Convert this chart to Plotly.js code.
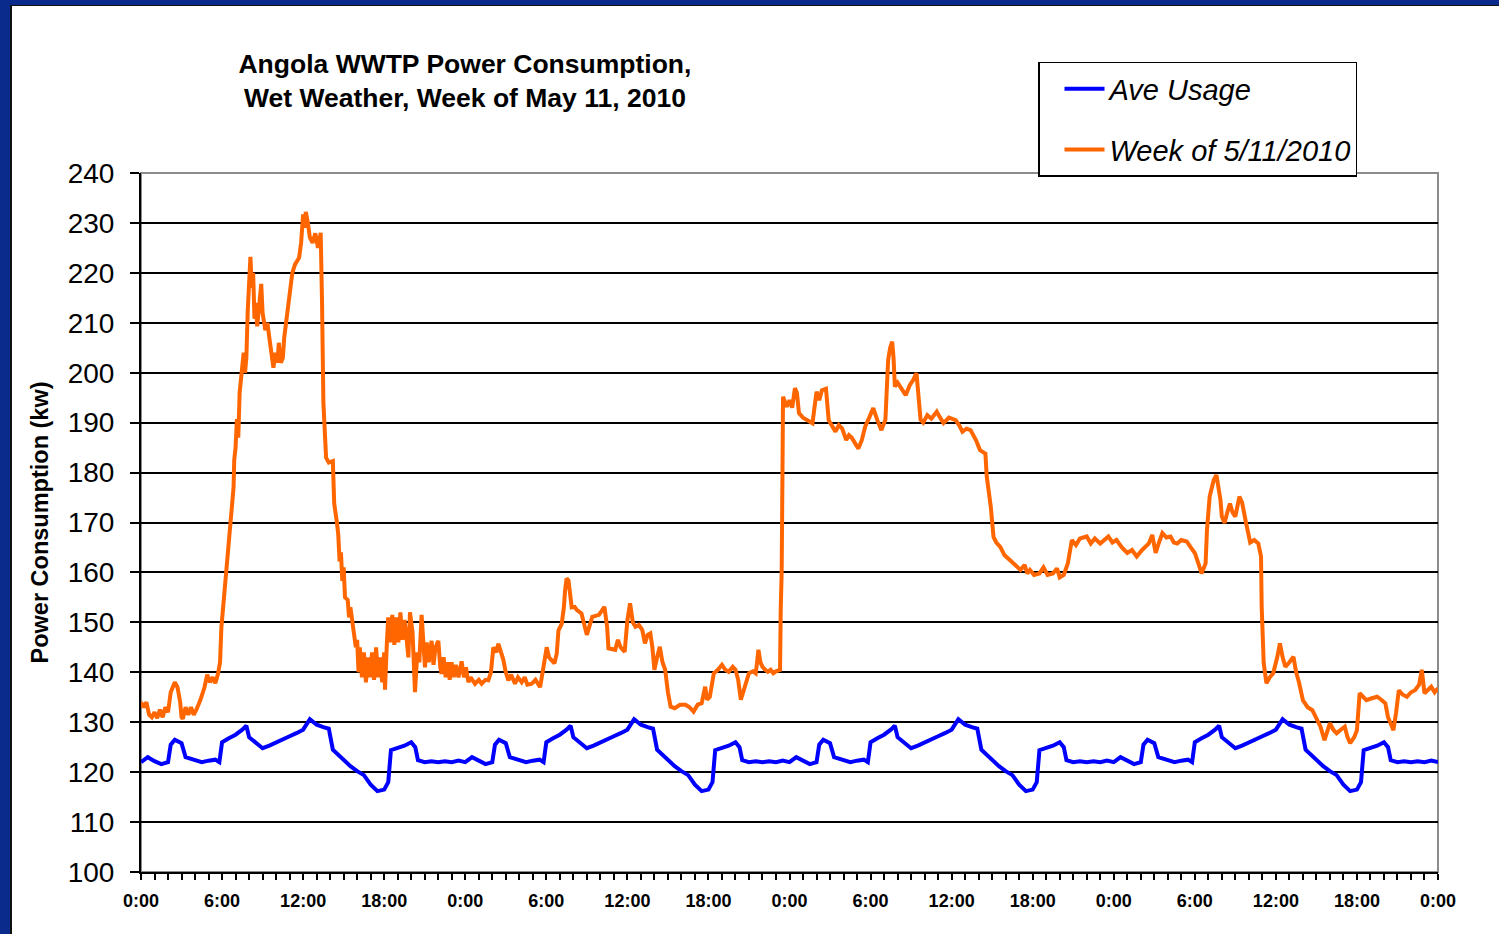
<!DOCTYPE html>
<html>
<head>
<meta charset="utf-8">
<script src="https://cdn.plot.ly/plotly-3.0.1.min.js"></script>
<style>
  html, body { margin: 0; padding: 0; width: 1499px; height: 934px; overflow: hidden; background: #0b2b8c; }
  #frame { position: absolute; left: 10px; top: 5px; width: 1489px; height: 929px; background: #fff;
           border-left: 2px solid #111; border-top: 1px solid #111; box-sizing: border-box; }
  #chart { position: absolute; left: 12px; top: 6px; width: 1487px; height: 928px; }
</style>
</head>
<body>
<div id="frame"></div>
<div id="chart"></div>
<script>
// ---- Data ----
const tickHours = [0, 6, 12, 18, 24, 30, 36, 42, 48, 54, 60, 66, 72, 78, 84, 90, 96];
const tickLabels = ['0:00','6:00','12:00','18:00','0:00','6:00','12:00','18:00','0:00','6:00','12:00','18:00','0:00','6:00','12:00','18:00','0:00'];

// "Ave Usage": the same daily average profile, plotted for each of the 4 days
const aveHours = [0,0.5,1,1.5,2,2.2,2.5,3,3.3,3.5,4,4.5,5,5.5,5.8,6,6.5,7,7.5,7.8,8,8.5,9,9.5,10,10.5,11,11.5,12,12.5,13,13.5,13.9,14.2,15,15.5,16,16.5,17,17.5,18,18.3,18.5,19,19.5,20,20.3,20.5,21,21.5,22,22.5,23,23.5,24];
const aveKw    = [122,123,122.2,121.6,122,125.5,126.5,125.8,123,122.8,122.3,122,122.3,122.5,122,126,126.8,127.5,128.5,129.3,127,125.8,124.8,125.3,126,126.5,127.2,127.8,128.5,130.6,129.5,129,128.7,124.5,122.4,121.2,120.2,119.4,117.5,116.2,116.5,118,124.4,124.8,125.3,126,125,122.4,122,122.2,122,122.2,122,122.3,122];
const dayStarts = [0, 24, 48, 72];

// "Week of 5/11/2010"
const weekHours = [
 0,0.2,0.4,0.6,0.8,1,1.2,1.4,1.6,1.8,2,2.2,2.5,2.7,2.9,3,3.1,3.3,3.5,3.7,3.9,4.1,4.4,4.7,4.9,5.1,5.3,5.5,5.7,5.85,5.95,
 6.2,6.5,6.7,6.85,6.9,7,7.1,7.2,7.3,7.4,7.5,7.6,7.7,7.8,7.9,8,8.1,8.2,8.3,8.4,8.5,8.6,8.7,8.9,9,9.2,9.35,9.5,9.65,9.8,9.95,
 10.1,10.2,10.35,10.5,10.6,10.7,10.85,11,11.2,11.4,11.6,11.7,11.85,12,12.1,12.2,12.35,12.5,12.7,12.9,13.1,13.3,13.4,13.5,13.7,13.9,
 14.2,14.3,14.5,14.6,14.7,14.8,14.9,15,15.1,15.3,15.4,15.5,15.7,15.8,15.9,16,16.1,16.2,16.35,16.5,16.65,16.8,16.95,17.1,17.25,17.4,17.55,17.7,17.85,18,18.06,
 18.2,18.3,18.45,18.6,18.75,18.9,19.05,19.2,19.35,19.5,19.65,19.79,19.91,20.1,20.28,20.45,20.6,20.77,20.9,21.02,21.15,21.3,21.51,21.65,21.8,
 22.01,22.15,22.25,22.4,22.55,22.7,22.85,22.99,23.15,23.3,23.5,23.73,23.9,24.05,24.23,24.4,24.72,25,25.21,25.5,25.71,25.9,26.08,26.3,26.45,26.65,26.82,
 27,27.19,27.4,27.68,27.9,28.18,28.4,28.6,28.92,29.2,29.54,29.79,30.03,30.2,30.4,30.6,30.77,30.9,31.14,31.3,31.39,31.5,31.64,31.75,31.88,
 32.1,32.25,32.6,33,33.4,33.9,34.3,34.5,34.6,35.1,35.3,35.5,35.8,36,36.2,36.4,36.6,36.85,37.1,37.3,37.5,37.7,37.85,38,38.2,38.4,38.6,38.8,
 39,39.2,39.5,39.9,40.3,40.6,40.9,41.2,41.5,41.6,41.76,41.9,42.1,42.4,42.7,43,43.25,43.5,43.8,44,44.2,44.4,44.7,45,45.3,45.5,45.6,45.7,45.85,
 46,46.2,46.4,46.6,46.8,47,47.3,47.35,47.42,47.48,47.52,47.8,48,48.2,48.4,48.55,48.7,49,49.3,49.7,50,50.2,50.4,50.7,50.9,51.1,51.4,51.65,51.9,
 52.2,52.4,52.6,52.85,53.1,53.35,53.6,53.9,54.2,54.5,54.8,55.1,55.2,55.3,55.45,55.6,55.7,55.8,56,56.2,56.4,56.6,56.9,57.15,57.4,57.55,57.7,57.9,
 58.2,58.5,58.9,59.15,59.4,59.8,60.3,60.55,60.8,61.1,61.4,61.8,62.1,62.5,62.6,62.9,63.1,63.3,63.6,63.9,64.3,64.6,65.1,65.4,65.6,65.8,
 66.1,66.5,66.8,67.1,67.5,67.8,68,68.3,68.6,68.9,69.2,69.5,70,70.3,70.6,71,71.3,71.6,71.9,72.2,72.6,73,73.35,73.7,74.1,74.6,74.85,
 75.1,75.35,75.6,75.9,76.2,76.45,76.7,77,77.4,77.7,78,78.3,78.5,78.8,78.9,79.1,79.4,79.6,79.75,79.9,80,80.2,80.4,80.6,80.8,81,81.3,81.5,81.8,
 82.1,82.4,82.7,82.9,82.95,83.1,83.3,83.55,83.8,84.1,84.3,84.5,84.7,85,85.3,85.5,85.7,86,86.35,86.7,87,87.3,87.6,87.8,88,88.25,88.5,88.8,
 89.1,89.3,89.5,89.8,90,90.2,90.45,90.7,91.1,91.5,91.8,92.1,92.3,92.5,92.7,92.9,93.1,93.4,93.7,94,94.3,94.6,94.8,95,95.25,95.5,95.75,96
];
const weekKw = [
 134,133,134,131.5,131,132,130.8,132.5,131,133,132,136,138,137,134,131,130.7,133,131.5,133,131.5,132.5,134.5,137,139.5,138,139,137.8,139.7,142,149,
 156.8,164.5,171.5,177,182.5,185,190.7,187,196,198.5,202,204,200,203,212.4,218,223.2,217,220,210.8,214,209.3,213,217.8,212,208.5,210,206.2,204,201,204,
 202,206,202,203,207,209.3,213,217,220,221.7,222.5,223,226,231.7,229,232.2,230,227.1,226,227.9,225,228,214,194,183,182,
 182.3,173.8,170,167.6,162.2,164,158.3,161,155,154.5,151,153,149,147,145,146.5,140,145,139,144,138,143,139,144,138.5,145,139,143,138,144,136.5,
 146,151,146,151.5,145.5,151,146,152,146.5,150.5,147,143,152,148,136,144,142,151.5,146,141,146,142,146.3,141.5,145,
 146.3,141,139.7,143,139,142,138.5,142,139,141.5,139,142.2,139,141,138,139,137.7,138.5,137.7,138.5,138.4,140,145,144,145.7,144,142.5,
 140,138.4,139.5,137.7,139,138,139,137.5,137.7,138.5,137,141.6,145,143,142.5,141.8,143.7,148.4,149.7,153,156.4,158.8,158.4,155,153,
 153.1,152.5,151.8,147.5,151.1,151.5,153.1,149.1,144.8,144.5,146.5,145,144.1,150.4,153.8,150,149.1,149.5,148.5,145.8,147.5,147.8,145,140.5,143,145.1,142,140.5,
 136,133.1,132.8,133.5,133.5,133,132.1,133.5,133.8,135,137.1,134.5,135.1,139.8,140.5,141.5,140.5,140.1,141.1,140.5,138.5,134.5,137.1,139.8,140.2,139.8,142,144.5,142,
 141.1,140.5,140.1,140.5,139.8,140.2,140.5,152.5,160,179.8,195.2,193.2,194.5,193,196.9,196,191.9,191,190.6,189.9,196.2,194.5,196.5,196.8,190.5,189.5,188.2,189.5,188.8,
 186.5,187.5,187,186,184.8,186.5,189.2,191,192.9,190.5,188.5,190.6,196,202.5,205,206.2,203,197.2,198,197.2,196.5,195.5,197.5,198.5,199.9,196,190.6,190,
 191.5,190.8,192.2,191,189.9,191,190.5,189.5,188.2,188.8,188.5,186.5,184.5,183.8,179.2,173.1,167.1,166,165.1,163.5,162.5,161.5,160.5,161.5,159.8,160.5,
 159.5,159.8,161,159.5,159.8,160.8,159,159.5,161.8,166.5,165.5,166.8,167.2,165.8,166.8,165.8,166.5,167.2,166,166.5,165,163.9,164.5,163.2,164.5,165.8,167.5,
 163.9,166,167.9,167,167.2,166,165.8,166.5,166.2,165,163.9,161.5,159.8,161.8,168.5,175.2,178.5,179.5,177,174.5,171.2,169.9,172,173.8,172,171.2,175.2,174,169.8,
 166,166.5,165.8,163.2,153.1,141.8,137.8,139,139.8,143,145.8,143,141.1,142,143.1,140,138.1,134.4,133,132.4,130.5,129.1,126.4,128,129.8,128.5,127.8,128.5,
 129.1,127,125.8,127,128.4,135.8,135,134.4,134.8,135.1,134.5,133.8,131,129.8,128.4,132,136.4,135.5,135.1,136,136.4,137.5,140.5,135.8,136.5,137.1,136,136.8
];

// ---- Build the average-usage trace for all four days ----
const aveX = [], aveY = [];
dayStarts.forEach(d => { aveHours.forEach((h, i) => { aveX.push(d + h); aveY.push(aveKw[i]); }); });

const FONT = 'Arial, "Liberation Sans", Helvetica, sans-serif';

const traces = [
  { x: aveX, y: aveY, type: 'scatter', mode: 'lines', name: 'Ave Usage',
    line: { color: '#0000ff', width: 4 }, legendgroup: 'a' },
  { x: weekHours, y: weekKw, type: 'scatter', mode: 'lines', name: 'Week of 5/11/2010',
    line: { color: '#ff6600', width: 4 }, legendgroup: 'b' }
];

const layout = {
  width: 1487, height: 928,
  margin: { l: 129, r: 61, t: 167, b: 62 },
  paper_bgcolor: 'rgba(0,0,0,0)', plot_bgcolor: '#ffffff',
  font: { family: FONT, color: '#000' },
  showlegend: true,
  title: {
    text: 'Angola WWTP Power Consumption,<br>Wet Weather, Week of May 11, 2010',
    font: { family: FONT, size: 26.5, weight: 'bold', color: '#000' },
    xref: 'container', x: 0.3046, xanchor: 'center',
    yref: 'container', y: 0.928, yanchor: 'top'
  },
  xaxis: {
    range: [0, 96], tickmode: 'array', tickvals: tickHours, ticktext: tickLabels,
    ticks: 'outside', ticklen: 6, tickwidth: 2, tickcolor: '#000',
    minor: { dtick: 1, tick0: 0, ticks: 'outside', ticklen: 6, tickwidth: 2, tickcolor: '#000', showgrid: false },
    showgrid: false, zeroline: false, showline: true, linecolor: '#000', linewidth: 2,
    tickfont: { family: FONT, size: 18, weight: 'bold', color: '#000' },
    ticklabelstandoff: 5, fixedrange: true
  },
  yaxis: {
    range: [100, 240], dtick: 10, tick0: 100,
    ticks: 'outside', ticklen: 9, tickwidth: 2, tickcolor: '#000',
    showgrid: true, gridcolor: '#000', gridwidth: 2,
    zeroline: false, showline: true, linecolor: '#000', linewidth: 2,
    tickfont: { family: FONT, size: 28, color: '#000' },
    ticklabelstandoff: 10,
    title: { text: 'Power Consumption (kw)', font: { family: FONT, size: 23.5, weight: 'bold', color: '#000' }, standoff: 12 },
    fixedrange: true
  },
  legend: {
    x: 0.6916, xanchor: 'left', y: 1.1588, yanchor: 'top',
    bgcolor: '#ffffff', bordercolor: '#000', borderwidth: 1.5,
    font: { family: FONT, size: 29, style: 'italic', color: '#000' },
    traceorder: 'grouped', tracegroupgap: 20, itemwidth: 40,
    indentation: 20, entrywidth: 286
  },
  shapes: [
    { type: 'rect', xref: 'paper', yref: 'paper', x0: 0, x1: 1, y0: 0, y1: 1,
      line: { color: '#8c8c8c', width: 2 }, layer: 'between' }
  ]
};

Plotly.newPlot('chart', traces, layout, { displayModeBar: false, staticPlot: true });
</script>
</body>
</html>
